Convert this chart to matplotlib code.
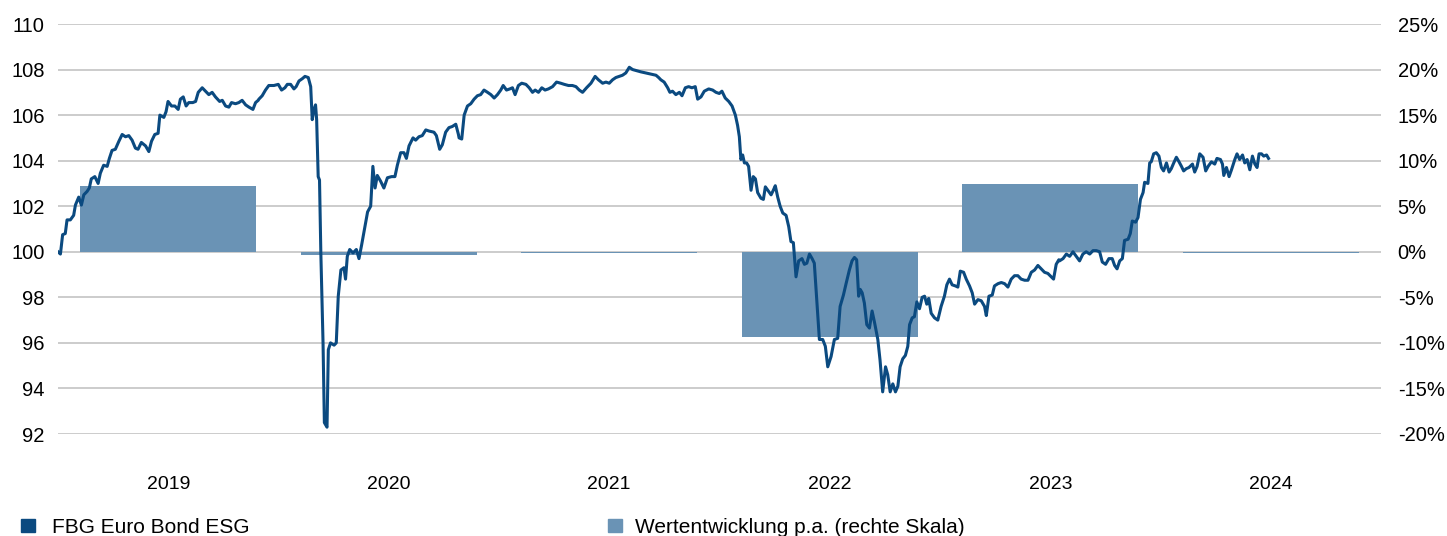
import matplotlib.pyplot as plt
from matplotlib.patches import Rectangle

plt.rcParams['font.family'] = ['Liberation Sans', 'DejaVu Sans']

# yearly performance (right scale, %)
bar_years = [2019, 2020, 2021, 2022, 2023, 2024]
bar_perf = [7.24, -0.3, -0.1, -9.3, 7.46, -0.15]

# fund price index (left scale), (decimal year, value)
nav = [
    (2019.000, 100.0), (2019.011, 99.9), (2019.021, 100.75), (2019.033, 100.8), (2019.041, 101.4),
    (2019.056, 101.4), (2019.071, 101.6), (2019.079, 102.05), (2019.094, 102.4), (2019.106, 102.05),
    (2019.117, 102.5), (2019.132, 102.65), (2019.142, 102.8), (2019.151, 103.2), (2019.167, 103.3),
    (2019.182, 103.0), (2019.192, 103.45), (2019.207, 103.8), (2019.223, 103.75), (2019.233, 104.1),
    (2019.245, 104.45), (2019.260, 104.5), (2019.276, 104.85), (2019.291, 105.15), (2019.306, 105.05),
    (2019.321, 105.1), (2019.336, 104.9), (2019.351, 104.55), (2019.363, 104.5), (2019.378, 104.8),
    (2019.397, 104.65), (2019.412, 104.4), (2019.424, 104.85), (2019.439, 105.15), (2019.454, 105.2),
    (2019.462, 106.0), (2019.480, 105.9), (2019.490, 106.15), (2019.499, 106.6), (2019.515, 106.4),
    (2019.530, 106.4), (2019.545, 106.25), (2019.555, 106.7), (2019.568, 106.8), (2019.581, 106.4),
    (2019.593, 106.55), (2019.611, 106.55), (2019.624, 106.6), (2019.636, 107.0), (2019.654, 107.2),
    (2019.669, 107.05), (2019.684, 106.9), (2019.699, 107.0), (2019.714, 106.8), (2019.733, 106.6),
    (2019.745, 106.65), (2019.760, 106.4), (2019.775, 106.35), (2019.787, 106.55), (2019.805, 106.5),
    (2019.820, 106.55), (2019.835, 106.65), (2019.851, 106.45), (2019.866, 106.35), (2019.884, 106.25),
    (2019.896, 106.55), (2019.908, 106.65),
    (2019.911, 106.7), (2019.926, 106.85), (2019.941, 107.1), (2019.956, 107.3), (2019.979, 107.3),
    (2019.999, 107.35), (2020.014, 107.1), (2020.029, 107.2), (2020.040, 107.35), (2020.055, 107.35),
    (2020.070, 107.15), (2020.080, 107.25), (2020.093, 107.5), (2020.108, 107.6), (2020.120, 107.7),
    (2020.135, 107.65), (2020.146, 107.25), (2020.153, 105.8), (2020.161, 106.25), (2020.168, 106.45),
    (2020.173, 105.8), (2020.180, 103.3), (2020.186, 103.15), (2020.192, 99.95), (2020.202, 96.0),
    (2020.208, 92.5), (2020.220, 92.3), (2020.226, 95.7), (2020.236, 96.0), (2020.252, 95.9),
    (2020.262, 96.0), (2020.271, 98.05), (2020.283, 99.2), (2020.297, 99.3), (2020.304, 98.8),
    (2020.312, 99.8), (2020.323, 100.1), (2020.338, 99.95), (2020.353, 100.1), (2020.365, 99.7),
    (2020.377, 100.3), (2020.392, 101.1), (2020.404, 101.75), (2020.418, 102.0), (2020.428, 103.75),
    (2020.438, 102.8), (2020.448, 103.35), (2020.463, 103.1), (2020.478, 102.8), (2020.494, 103.25),
    (2020.513, 103.3), (2020.528, 103.3), (2020.539, 103.8), (2020.554, 104.35), (2020.569, 104.35),
    (2020.580, 104.1), (2020.592, 104.65), (2020.610, 105.0), (2020.622, 104.9), (2020.637, 105.05),
    (2020.652, 105.1), (2020.668, 105.35), (2020.683, 105.3), (2020.705, 105.25), (2020.716, 105.1),
    (2020.731, 104.5), (2020.743, 104.7), (2020.758, 105.25), (2020.773, 105.45), (2020.788, 105.5),
    (2020.804, 105.6), (2020.816, 105.15),
    (2020.819, 105.0), (2020.831, 104.95), (2020.842, 106.0), (2020.857, 106.4), (2020.872, 106.5),
    (2020.887, 106.7), (2020.902, 106.85), (2020.917, 106.9), (2020.932, 107.1), (2020.948, 107.0),
    (2020.963, 106.9), (2020.978, 106.75), (2020.993, 106.9), (2021.008, 107.1), (2021.019, 107.3),
    (2021.034, 107.1), (2021.049, 107.15), (2021.061, 107.2), (2021.073, 106.9), (2021.088, 107.3),
    (2021.103, 107.4), (2021.122, 107.35), (2021.137, 107.2), (2021.152, 107.0), (2021.164, 107.1),
    (2021.179, 107.0), (2021.194, 107.2), (2021.209, 107.1), (2021.224, 107.15), (2021.243, 107.25),
    (2021.261, 107.45), (2021.280, 107.4), (2021.296, 107.35), (2021.315, 107.3), (2021.333, 107.3),
    (2021.349, 107.25), (2021.364, 107.1), (2021.379, 107.0), (2021.397, 107.2), (2021.417, 107.4),
    (2021.436, 107.7), (2021.451, 107.55), (2021.470, 107.4), (2021.485, 107.45), (2021.500, 107.4),
    (2021.515, 107.55), (2021.530, 107.65), (2021.545, 107.7), (2021.560, 107.75), (2021.575, 107.85),
    (2021.591, 108.1), (2021.606, 108.0), (2021.624, 107.95), (2021.643, 107.9), (2021.666, 107.85),
    (2021.689, 107.8), (2021.712, 107.75), (2021.724, 107.65),
    (2021.734, 107.55), (2021.749, 107.45), (2021.765, 107.2), (2021.775, 107.0), (2021.787, 107.05),
    (2021.802, 106.9), (2021.818, 107.0), (2021.830, 106.85), (2021.845, 107.2), (2021.860, 107.25),
    (2021.875, 107.2), (2021.890, 107.25), (2021.901, 106.7), (2021.916, 106.8), (2021.931, 107.05),
    (2021.951, 107.15), (2021.969, 107.1), (2021.984, 107.0), (2021.999, 106.95), (2022.011, 107.05),
    (2022.026, 106.75), (2022.042, 106.6), (2022.057, 106.4), (2022.072, 106.0), (2022.082, 105.55),
    (2022.090, 105.05), (2022.097, 104.05), (2022.105, 104.25), (2022.113, 103.9), (2022.123, 103.9),
    (2022.132, 103.75), (2022.143, 102.7), (2022.153, 103.3), (2022.163, 103.2), (2022.173, 102.6),
    (2022.188, 102.35), (2022.199, 102.3), (2022.208, 102.85), (2022.223, 102.65), (2022.234, 102.5),
    (2022.244, 102.7), (2022.253, 102.9), (2022.264, 102.4), (2022.275, 102.0), (2022.287, 101.7),
    (2022.302, 101.6), (2022.314, 101.1), (2022.324, 100.45), (2022.335, 100.4), (2022.347, 98.9),
    (2022.359, 99.6), (2022.374, 99.7), (2022.385, 99.45), (2022.396, 99.5), (2022.408, 99.9),
    (2022.420, 99.7), (2022.430, 99.5), (2022.441, 97.9), (2022.453, 96.15), (2022.468, 96.15),
    (2022.480, 95.85), (2022.491, 94.95), (2022.506, 95.4), (2022.521, 96.15), (2022.536, 96.2),
    (2022.547, 97.6), (2022.562, 98.1), (2022.574, 98.6), (2022.589, 99.2), (2022.601, 99.6),
    (2022.612, 99.75), (2022.622, 99.65), (2022.631, 98.05),
    (2022.638, 98.35), (2022.647, 98.2), (2022.657, 97.75), (2022.668, 96.8), (2022.680, 96.65),
    (2022.692, 97.4), (2022.703, 96.9), (2022.718, 96.15), (2022.728, 95.25), (2022.740, 93.85),
    (2022.753, 94.95), (2022.763, 94.6), (2022.774, 93.85), (2022.786, 94.2), (2022.798, 93.85),
    (2022.809, 94.1), (2022.819, 94.95), (2022.831, 95.3), (2022.843, 95.45), (2022.854, 95.85),
    (2022.862, 96.8), (2022.874, 97.1), (2022.884, 97.15), (2022.895, 97.8), (2022.907, 97.5),
    (2022.919, 98.0), (2022.930, 98.05), (2022.940, 97.7), (2022.949, 97.95), (2022.960, 97.3),
    (2022.975, 97.1), (2022.990, 97.0), (2023.005, 97.6), (2023.020, 98.05), (2023.031, 98.55),
    (2023.043, 98.8), (2023.055, 98.55), (2023.070, 98.5), (2023.081, 98.45), (2023.092, 99.15),
    (2023.107, 99.1), (2023.119, 98.8), (2023.134, 98.5), (2023.146, 98.2), (2023.157, 97.7),
    (2023.172, 97.9), (2023.187, 97.85), (2023.202, 97.6), (2023.210, 97.2), (2023.222, 98.05),
    (2023.237, 98.1), (2023.247, 98.5), (2023.263, 98.6), (2023.278, 98.65), (2023.293, 98.6),
    (2023.308, 98.45), (2023.323, 98.8), (2023.338, 98.95), (2023.353, 98.95), (2023.368, 98.8),
    (2023.384, 98.75), (2023.399, 98.75), (2023.414, 99.1), (2023.429, 99.2), (2023.444, 99.4),
    (2023.459, 99.25), (2023.474, 99.1), (2023.489, 99.05), (2023.505, 98.9), (2023.515, 98.8),
    (2023.527, 99.45), (2023.539, 99.65),
    (2023.542, 99.6), (2023.558, 99.7), (2023.573, 99.9), (2023.588, 99.8), (2023.603, 100.0),
    (2023.618, 99.8), (2023.633, 99.6), (2023.648, 99.9), (2023.663, 100.0), (2023.679, 99.9),
    (2023.694, 100.05), (2023.709, 100.05), (2023.724, 100.0), (2023.736, 99.55), (2023.751, 99.45),
    (2023.766, 99.7), (2023.781, 99.7), (2023.792, 99.4), (2023.803, 99.25), (2023.815, 99.6),
    (2023.827, 99.7), (2023.837, 100.5), (2023.853, 100.55), (2023.863, 100.8), (2023.872, 101.35),
    (2023.887, 101.3), (2023.898, 101.5), (2023.909, 102.3), (2023.921, 102.6), (2023.928, 103.05),
    (2023.943, 103.0), (2023.951, 103.9), (2023.958, 103.95), (2023.969, 104.3), (2023.981, 104.35),
    (2023.993, 104.2), (2024.004, 103.7), (2024.014, 103.55), (2024.027, 103.9), (2024.039, 103.5),
    (2024.049, 103.65), (2024.060, 103.9), (2024.072, 104.15), (2024.084, 103.95), (2024.095, 103.75),
    (2024.105, 103.55), (2024.117, 103.65), (2024.129, 103.7), (2024.145, 103.85), (2024.155, 103.5),
    (2024.166, 103.75), (2024.178, 104.3), (2024.193, 104.15), (2024.205, 103.55), (2024.216, 103.75),
    (2024.231, 103.95), (2024.246, 103.85), (2024.256, 104.1), (2024.272, 104.05), (2024.281, 103.85),
    (2024.287, 103.35), (2024.299, 103.7), (2024.311, 103.3), (2024.322, 103.6), (2024.337, 104.05),
    (2024.347, 104.3), (2024.359, 104.05), (2024.372, 104.25), (2024.382, 103.9), (2024.393, 104.05),
    (2024.405, 103.6), (2024.417, 104.2), (2024.428, 103.85), (2024.438, 103.7), (2024.447, 104.3),
    (2024.458, 104.3), (2024.468, 104.2), (2024.481, 104.25), (2024.490, 104.1),
]

left_ticks = list(range(92, 111, 2))
right_ticks = list(range(-20, 26, 5))
legend_labels = ["FBG Euro Bond ESG", "Wertentwicklung p.a. (rechte Skala)"]

LINE_COLOR = '#0b4a80'
BAR_COLOR = '#6a93b5'
GRID_COLOR = '#c8c8c8'
FS_Y = 14.5
FS_X = 14

fig = plt.figure(figsize=(14.47, 5.36), dpi=100)

# bottom layer: bars + grid on right-hand scale
ax_bar = fig.add_axes([58 / 1447, 1 - 434 / 536, 1323 / 1447, 410 / 536])
ax_bar.bar([y + 0.5 for y in bar_years], bar_perf, width=0.8, color=BAR_COLOR, zorder=2)
ax_bar.set_xlim(2019, 2025)
ax_bar.set_ylim(-20, 25)
ax_bar.set_xticks([y + 0.5 for y in bar_years])
ax_bar.set_xticklabels([str(y) for y in bar_years])
ax_bar.grid(axis='y', color=GRID_COLOR, linewidth=1.3, zorder=0)
ax_bar.grid(axis='x', visible=False)
ax_bar.set_axisbelow(True)
ax_bar.tick_params(axis='x', length=0, pad=30, labelsize=FS_X)

# top layer: price line on left-hand scale
ax_line = ax_bar.twinx()
# twinx resets the sides, so put them where they belong afterwards
ax_line.yaxis.tick_left()
ax_bar.yaxis.tick_right()
ax_bar.set_yticks(right_ticks)
ax_bar.set_yticklabels([f"{t}%" for t in right_ticks])
ax_bar.tick_params(axis='y', length=0, pad=12, labelsize=FS_Y)

nav_t = [p[0] for p in nav]
nav_v = [p[1] for p in nav]
ax_line.plot(nav_t, nav_v, color=LINE_COLOR, linewidth=2.2, solid_joinstyle='round')
ax_line.set_ylim(92, 110)
ax_line.set_yticks(left_ticks)
ax_line.tick_params(axis='y', length=0, pad=9.5, labelsize=FS_Y)

for a in (ax_bar, ax_line):
    for s in a.spines.values():
        s.set_visible(False)

# legend at the bottom
for x_sq, x_txt, col, lab in [(21, 52, LINE_COLOR, legend_labels[0]),
                              (608, 635, BAR_COLOR, legend_labels[1])]:
    fig.patches.append(Rectangle((x_sq / 1447, 1 - 532 / 536), 14 / 1447, 13 / 536,
                                 transform=fig.transFigure, color=col, figure=fig))
    fig.text(x_txt / 1447, 1 - 533 / 536, lab, fontsize=15, va='baseline', ha='left')

fig.savefig("out.png", dpi=100)
